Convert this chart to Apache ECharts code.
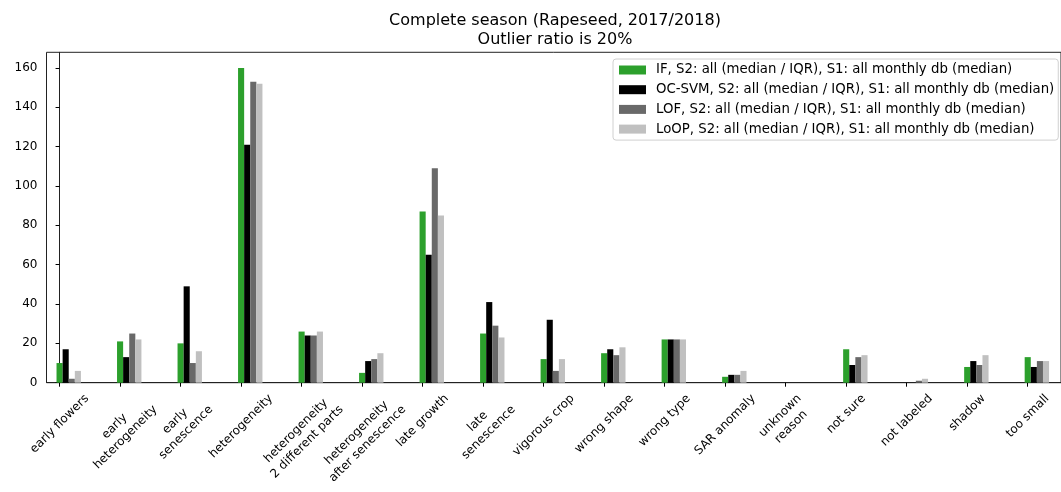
<!DOCTYPE html>
<html>
<head>
<meta charset="utf-8">
<script src="https://cdn.jsdelivr.net/npm/echarts@6/dist/echarts.min.js"></script>
<style>
  html, body { margin: 0; padding: 0; background: #fff; }
  #chart { width: 1061px; height: 492px; }
</style>
</head>
<body>
<div id="chart"></div>
<script>
var categories = [
    'early flowers', 'early\nheterogeneity', 'early\nsenescence', 'heterogeneity',
    'heterogeneity\n2 different parts', 'heterogeneity\nafter senescence', 'late growth',
    'late\nsenescence', 'vigorous crop', 'wrong shape', 'wrong type', 'SAR anomaly',
    'unknown\nreason', 'not sure', 'not labeled', 'shadow', 'too small'
];
var seriesNames = [
    'IF, S2: all (median / IQR), S1: all monthly db (median)',
    'OC-SVM, S2: all (median / IQR), S1: all monthly db (median)',
    'LOF, S2: all (median / IQR), S1: all monthly db (median)',
    'LoOP, S2: all (median / IQR), S1: all monthly db (median)'
];
var ifValues    = [10, 21, 20, 160, 26, 5, 87, 25, 12, 15, 22, 3, 0, 17, 0, 8, 13];
var ocsvmValues = [17, 13, 49, 121, 24, 11, 65, 41, 32, 17, 22, 4, 0, 9, 0, 11, 8];
var lofValues   = [2, 25, 10, 153, 24, 12, 109, 29, 6, 14, 22, 4, 0, 13, 1, 9, 11];
var loopValues  = [6, 22, 16, 152, 26, 15, 85, 23, 12, 18, 22, 6, 0, 14, 2, 14, 11];
var yTicks = [0, 20, 40, 60, 80, 100, 120, 140, 160];

var FONT = 'DejaVu Sans';
var LINE_H = 15.5;
var colors = ['#2ca02c', '#000000', '#696969', '#c0c0c0'];
var valueSets = [ifValues, ocsvmValues, lofValues, loopValues];
var catIndex = categories.map(function (c, i) { return i; });

var chart = echarts.init(document.getElementById('chart'));

function points(values) {
    return values.map(function (v, i) { return [i, v]; });
}

var series = [];
// three empty slots so the first bar of each group sits on the tick
for (var k = 0; k < 3; k++) {
    series.push({ type: 'bar', name: 'pad' + k, data: [], barWidth: 6.1, barGap: 0 });
}
valueSets.forEach(function (vals, k) {
    series.push({
        type: 'bar',
        name: seriesNames[k],
        data: points(vals),
        barWidth: 6.1,
        barGap: 0,
        itemStyle: { color: colors[k] }
    });
});

var option = {
    animation: false,
    backgroundColor: '#fff',
    textStyle: { fontFamily: FONT },
    title: {
        text: 'Complete season (Rapeseed, 2017/2018)\nOutlier ratio is 20%',
        left: 555,
        top: 11,
        padding: 0,
        textAlign: 'center',
        textStyle: { fontFamily: FONT, fontSize: 16, fontWeight: 'normal', color: '#000', lineHeight: 19 }
    },
    legend: {
        data: seriesNames,
        orient: 'vertical',
        left: 613,
        top: 59,
        padding: [4, 4, 4, 6],
        itemWidth: 27,
        itemHeight: 9,
        itemGap: 5.7,
        icon: 'rect',
        borderColor: '#d0d0d0',
        borderWidth: 1,
        borderRadius: 3,
        backgroundColor: 'rgba(255,255,255,0.8)',
        textStyle: { fontFamily: FONT, fontSize: 13.3, color: '#000', lineHeight: 14, padding: [0, 0, 0, 5] }
    },
    grid: {
        left: 46.5,
        top: 52.3,
        bottom: 109.3,
        right: -10,
        show: true,
        borderColor: '#222',
        borderWidth: 1,
        containLabel: false
    },
    xAxis: {
        type: 'value',
        min: -0.216,
        max: 16.55,
        axisLine: { show: true, lineStyle: { color: '#222', width: 1 } },
        axisTick: { show: true, length: 4, customValues: catIndex, lineStyle: { color: '#000' } },
        axisLabel: { show: false },
        splitLine: { show: false }
    },
    yAxis: {
        type: 'value',
        min: 0,
        max: 168,
        axisLine: { show: true, lineStyle: { color: '#222', width: 1 } },
        axisTick: { show: true, length: 4, customValues: yTicks, lineStyle: { color: '#000' } },
        axisLabel: { customValues: yTicks, margin: 9, fontFamily: FONT, fontSize: 12, color: '#000' },
        splitLine: { show: false }
    },
    series: series
};
chart.setOption(option);

// rotated category labels, centred under each tick like matplotlib
var ctx = document.createElement('canvas').getContext('2d');
ctx.font = '12px "' + FONT + '"';
var baseY = chart.convertToPixel({ yAxisIndex: 0 }, 0);
var labels = categories.map(function (label, i) {
    var lines = label.split('\n');
    var w = Math.max.apply(null, lines.map(function (s) { return ctx.measureText(s).width; }));
    var h = lines.length * LINE_H;
    var half = (w + h) * Math.SQRT1_2 / 2;
    return {
        type: 'text',
        x: chart.convertToPixel({ xAxisIndex: 0 }, i),
        y: baseY + 8.4 + half,
        rotation: Math.PI / 4,
        silent: true,
        style: {
            text: label,
            fontFamily: FONT,
            fontSize: 12,
            fill: '#000',
            align: 'center',
            verticalAlign: 'middle',
            lineHeight: LINE_H
        }
    };
});
chart.setOption({ graphic: labels });
</script>
</body>
</html>
